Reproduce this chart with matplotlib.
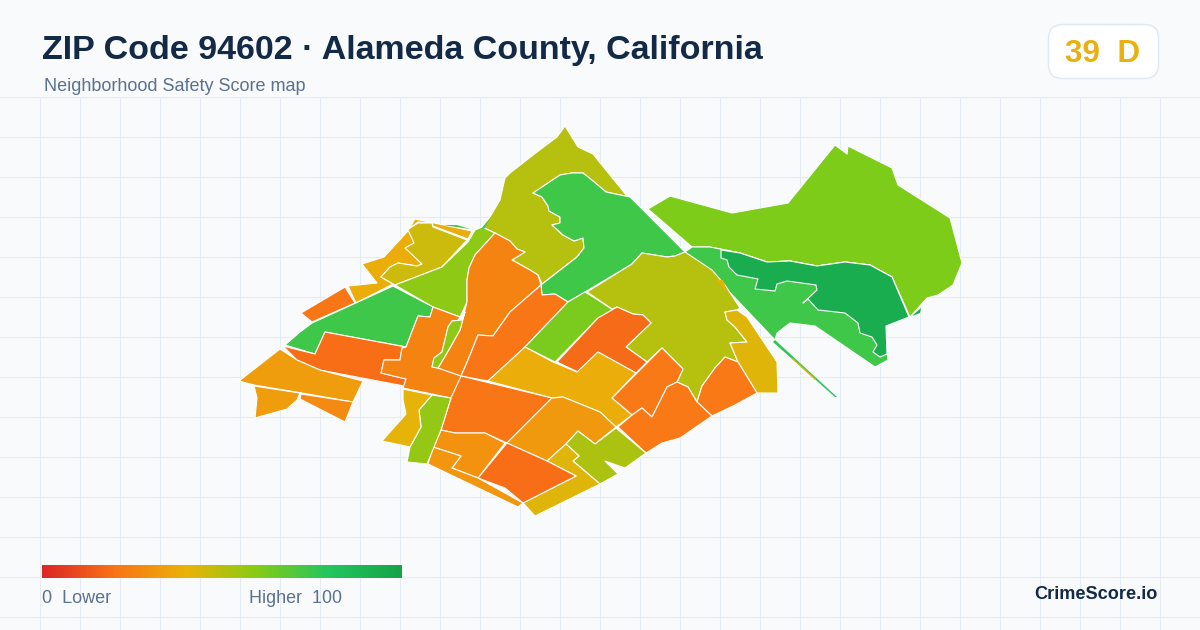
import numpy as np
import matplotlib
matplotlib.use("Agg")
import matplotlib.pyplot as plt
from matplotlib.colors import LinearSegmentedColormap
from matplotlib.patches import FancyBboxPatch, Polygon

plt.rcParams['font.family'] = ['Liberation Sans', 'DejaVu Sans']

# map outlines in image pixels
north_hills = [(565,126),(578,147),(593,154),(627,196),(630,197),(606,192),(593,181),(583,173),(572,173),(560,175),(545,185),(533,193),(542,197),(548,206),(549,211),(560,217),(560,223),(552,225),(563,235),(574,241),(583,238),(584,248),(577,257),(542,284),(538,275),(530,270),(512,260),(525,252),(517,249),(510,241),(495,233),(482,227),(490,217),(500,200),(505,178),(510,173),(537,152),(557,137)]
upper_green = [(630,197),(685,252),(675,256),(667,257),(642,253),(632,264),(585,292),(568,302),(555,294),(542,295),(541,285),(577,257),(584,248),(583,238),(574,241),(563,235),(552,225),(560,223),(560,217),(549,211),(548,206),(542,197),(533,193),(545,185),(560,175),(572,173),(583,173),(593,181),(606,192)]
west_lime = [(482,227),(495,233),(475,255),(469,268),(467,280),(467,302),(460,317),(433,307),(395,285),(442,267),(468,242),(475,230)]
west_olive = [(410,228),(418,223),(432,223),(433,227),(467,240),(442,267),(395,285),(381,277),(390,267),(398,263),(417,266),(422,264),(405,248),(414,243),(408,230)]
west_yellow = [(415,219),(472,231),(468,239),(433,226),(432,223),(418,222),(410,228),(415,243),(406,248),(422,264),(417,266),(398,263),(390,267),(381,277),(393,284),(356,303),(348,286),(377,283),(362,264),(384,257),(407,232)]
shore_sliver = [(301,313),(345,287),(355,303),(312,322)]
west_green = [(285,345),(300,332),(312,323),(393,286),(433,307),(430,317),(418,316),(406,347),(325,332),(315,354)]
west_orange = [(283,346),(315,354),(325,332),(406,347),(402,348),(400,360),(384,360),(381,373),(406,379),(404,386),(320,370),(297,360)]
mid_orange = [(418,316),(430,317),(433,307),(460,317),(457,322),(462,320),(452,321),(448,327),(442,352),(434,358),(432,367),(438,368),(462,376),(451,398),(432,394),(403,388),(406,379),(381,373),(384,360),(400,360),(402,348),(406,347)]
lime_strip = [(452,321),(462,320),(465,312),(460,330),(447,353),(438,368),(432,367),(434,358),(442,352),(448,327)]
central_orange = [(495,233),(510,241),(517,249),(525,252),(512,260),(530,270),(538,275),(541,285),(510,312),(493,336),(478,335),(468,360),(461,376),(438,368),(447,353),(460,330),(467,302),(467,280),(469,268),(475,255)]
central_dark = [(541,285),(542,295),(555,294),(568,302),(525,347),(488,381),(461,376),(468,360),(478,335),(493,336),(510,312)]
central_lime = [(568,302),(585,292),(598,300),(613,310),(598,318),(555,362),(525,347)]
east_dark = [(617,307),(633,314),(643,315),(651,323),(626,347),(647,362),(636,373),(598,352),(578,372),(557,362),(598,318)]
east_olive = [(685,252),(712,270),(725,285),(740,308),(737,310),(725,312),(727,320),(735,327),(747,342),(730,343),(738,362),(725,357),(715,368),(702,386),(697,402),(688,387),(677,382),(683,369),(662,348),(647,362),(626,347),(651,323),(643,315),(633,314),(617,307),(612,309),(587,292),(632,264),(642,253),(667,257),(675,256)]
east_yellow = [(725,312),(737,310),(747,317),(777,362),(778,393),(757,393),(738,362),(730,343),(747,342),(735,327),(727,320)]
east_sliver = [(716,280),(723,280),(728,293)]
south_east_a = [(725,357),(738,362),(757,393),(735,405),(712,416),(697,402),(702,386),(715,368)]
south_east_b = [(662,348),(683,369),(677,382),(667,387),(662,397),(652,417),(642,408),(632,415),(612,398),(647,363)]
south_east_c = [(677,382),(688,387),(697,402),(712,416),(680,438),(662,443),(646,453),(618,427),(632,415),(642,408),(652,417),(662,397),(667,387)]
central_yellow = [(488,381),(525,347),(553,362),(577,372),(598,352),(636,373),(612,398),(632,415),(616,427),(600,412),(563,397),(552,398)]
south_orange = [(461,376),(552,398),(507,443),(485,433),(455,433),(441,430),(451,398)]
south_amber = [(552,398),(563,397),(600,412),(616,427),(595,444),(578,431),(566,444),(547,461),(507,443)]
south_lime = [(578,431),(595,444),(616,428),(646,453),(625,468),(605,461),(618,474),(600,484),(573,461),(579,456),(566,444)]
south_yellow = [(566,444),(579,456),(573,461),(600,484),(535,516),(523,503),(576,476),(547,461)]
south_dark = [(507,443),(547,461),(576,476),(523,503),(505,488),(478,478)]
south_west_a = [(441,430),(455,433),(485,433),(505,443),(478,478),(452,468),(461,456),(433,447)]
south_west_b = [(433,447),(461,456),(452,468),(478,478),(523,503),(518,507),(428,464)]
inner_lime = [(432,395),(451,398),(441,430),(427,464),(407,462),(410,447),(421,427),(419,410)]
inner_yellow = [(403,389),(432,395),(419,410),(421,427),(410,447),(382,441),(406,414),(403,400)]
bay_amber = [(280,349),(297,360),(320,370),(363,381),(353,402),(302,393),(254,385),(239,381)]
bay_amber_b = [(254,386),(300,393),(297,400),(287,409),(255,418),(257,398)]
bay_orange = [(301,394),(353,402),(345,422),(300,399)]
east_lime = [(648,209),(670,196),(732,213),(788,203),(835,145),(847,154),(848,146),(892,168),(898,185),(950,218),(962,263),(953,285),(938,295),(927,298),(910,317),(892,277),(870,265),(845,262),(817,266),(790,261),(767,262),(740,253),(710,247),(692,247)]
east_green = [(685,252),(692,247),(710,247),(740,253),(767,262),(790,261),(817,266),(845,262),(870,265),(892,277),(909,317),(886,326),(888,360),(875,367),(815,326),(790,323),(777,333),(775,340),(720,282),(712,272)]
east_deep = [(721,250),(740,253),(767,262),(790,261),(817,266),(845,262),(870,265),(892,277),(909,317),(886,326),(887,354),(880,357),(873,352),(877,345),(872,337),(860,333),(858,323),(845,313),(818,310),(808,299),(803,303),(817,290),(816,285),(787,281),(777,284),(775,291),(755,289),(758,279),(737,275),(729,267),(727,260),(721,258)]
deep_sliver = [(912,316),(921,308),(920,313)]
line_sliver = [(775,340),(837,397),(835,397),(773,342)]
line_yellow = [(793,358),(816,379),(815,380),(792,359)]
top_sliver_a = [(481,229),(493,215),(490,219),(484,229)]
top_sliver_b = [(443,225),(457,225),(470,229)]

# outlines with a white border, and the score read from each fill
regions = [east_lime, east_green, east_deep,
           north_hills, upper_green, west_yellow, west_olive, west_lime, shore_sliver, west_green, west_orange,
           mid_orange, central_orange, lime_strip, central_dark, central_lime, east_olive, east_yellow,
           east_dark, south_east_a, south_east_b, south_east_c, central_yellow, south_orange, south_amber,
           south_lime, south_yellow, south_dark, south_west_a, south_west_b, inner_lime, inner_yellow,
           bay_amber, bay_amber_b, bay_orange]
scores = [61, 74, 94,
          50, 74, 38, 46, 58, 21, 74, 19,
          25, 25, 58, 21, 62, 50, 42,
          18, 22, 22, 22, 38, 21, 32,
          52, 42, 19, 30, 31, 57, 41,
          33, 33, 27]

# slivers too thin to carry a border
slivers = [deep_sliver, line_sliver, line_yellow, top_sliver_a, top_sliver_b, east_sliver]
sliver_scores = [94, 78, 42, 74, 74, 42]

legend_stops = [0.0, 0.2, 0.4, 0.6, 0.8, 1.0]
legend_colors = ['#dc2626', '#f97316', '#eab308', '#84cc16', '#22c55e', '#16a34a']
cmap = LinearSegmentedColormap.from_list('score', list(zip(legend_stops, legend_colors)))

fig = plt.figure(figsize=(12, 6.3), dpi=100, facecolor='#f8fafc')
ax = fig.add_axes([0, 0, 1, 1])
ax.set_xlim(0, 1200)
ax.set_ylim(630, 0)
ax.axis('off')

# background grid below the header
for x in range(40, 1200, 40):
    ax.plot([x, x], [97, 630], color='#e5ebf2', lw=0.75, zorder=1)
for y in range(97, 630, 40):
    ax.plot([0, 1200], [y, y], color='#e5ebf2', lw=0.75, zorder=1)

for outline, score in zip(regions, scores):
    ax.add_patch(Polygon(outline, closed=True, facecolor=cmap(score / 100), edgecolor='white', lw=0.8, zorder=3,
                         joinstyle='round'))
for outline, score in zip(slivers, sliver_scores):
    ax.add_patch(Polygon(outline, closed=True, facecolor=cmap(score / 100), edgecolor='none', zorder=4))

ax.text(42, 58.5, 'ZIP Code 94602 · Alameda County, California', fontsize=24.47, fontweight='bold', color='#132a47',
        va='baseline')
ax.text(44, 91, 'Neighborhood Safety Score map', fontsize=12.95, color='#5a7190', va='baseline')

badge = FancyBboxPatch((1048.5, 24.5), 110, 54, boxstyle='round,pad=0,rounding_size=14', facecolor='white',
                       edgecolor='#e2e8f0', lw=1, zorder=4)
ax.add_patch(badge)
ax.text(1103, 62, '39  D', fontsize=22.7, fontweight='bold', color='#e9b010', ha='center', va='baseline', zorder=5)

# legend bar
ax.imshow(np.linspace(0, 1, 360).reshape(1, -1), cmap=cmap, extent=(42, 402, 578, 565), aspect='auto', zorder=4)
ax.set_xlim(0, 1200)
ax.set_ylim(630, 0)
ax.text(42, 603, '0  Lower', fontsize=13, color='#5a7190', va='baseline', zorder=5)
ax.text(249, 603, 'Higher  100', fontsize=12.9, color='#5a7190', va='baseline', zorder=5)
ax.text(1158, 599, 'CrimeScore.io', fontsize=13.1, fontweight='bold', color='#132a47', ha='right', va='baseline',
        zorder=5)

fig.savefig('out.png', dpi=100, facecolor=fig.get_facecolor())
